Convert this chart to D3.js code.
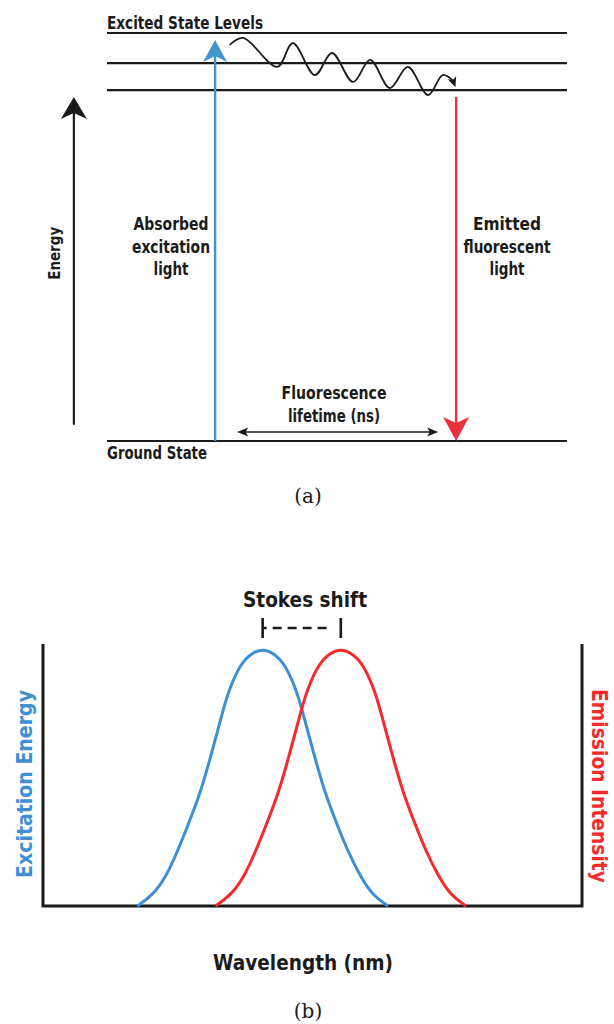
<!DOCTYPE html>
<html><head><meta charset="utf-8">
<script src="https://cdn.jsdelivr.net/npm/d3@7"></script>
<style>body{margin:0;background:#fff}svg{display:block}</style>
</head><body>
<script>
// ================= DATA =================
// (a) Jablonski diagram — energies in arbitrary units, positions on a 0..100 track
const excitedLevels = [10, 9.26, 8.6];
const groundLevel = 0;
const energyAxis = [0.4, 8.43];          // energy arrow from / to
const absorbedArrow = [0, 9.83];         // blue arrow: ground -> top
const emittedArrow = [8.43, 0];          // red arrow: below levels -> ground
const lifetimeSpan = [28.3, 72.0];       // horizontal double arrow positions
const lifetimeEnergy = 0.22;
const absorbedPos = 23.5;
const emittedPos = 75.9;
const energyAxisPos = -7.2;
// vibrational relaxation path [position, energy]
const relaxation = [
  [26.7, 9.71], [29.6, 9.88], [37.0, 9.17], [40.4, 9.75], [45.2, 8.97],
  [48.9, 9.51], [53.5, 8.80], [57.2, 9.34], [61.5, 8.65], [65.4, 9.17],
  [69.8, 8.48], [73.0, 8.97], [75.3, 8.82]
];
const absorbedLabel = ["Absorbed", "excitation", "light"];
const emittedLabel = ["Emitted", "fluorescent", "light"];
const lifetimeLabel = ["Fluorescence", "lifetime (ns)"];

// (b) spectra — wavelength (nm, arbitrary) vs normalised intensity
const excitationWl = [370,381,391,400,408,416,422,428,434,439,447,455,463,471,479,487,492,498,504,510,518,526,536,545,556];
const excitationVal = [0,0.04,0.11,0.215,0.32,0.43,0.535,0.65,0.77,0.855,0.945,0.985,1,0.985,0.945,0.855,0.77,0.65,0.535,0.43,0.32,0.215,0.11,0.04,0];
const emissionWl = [428,439,449,458,466,474,480,486,492,497,505,513,521,529,537,545,550,556,562,568,576,584,594,603,614];
const emissionVal = [0,0.04,0.11,0.215,0.32,0.43,0.535,0.65,0.77,0.855,0.945,0.985,1,0.985,0.945,0.855,0.77,0.65,0.535,0.43,0.32,0.215,0.11,0.04,0];
const stokesPeaks = [463, 521];

// ================= DRAW =================
const W = 614, H = 1024;
const svg = d3.select("body").append("svg").attr("width", W).attr("height", H);
const FONT = "'Liberation Sans Narrow','Arial Narrow','DejaVu Sans Condensed',sans-serif";
const INK = "#1b1b1b";
const BLUE_A = "#4393cf", RED_A = "#e8323c";
const BLUE = "#3f8fd2", RED = "#f52a2a";

function arrowHead(g, x, y, angle, len, wid, notch, color) {
  g.append("path")
    .attr("d", `M0,0 L${-len},${-wid/2} L${-len+notch},0 L${-len},${wid/2} Z`)
    .attr("transform", `translate(${x},${y}) rotate(${angle})`)
    .attr("fill", color);
}
function label(g, x, y, txt, size, opts = {}) {
  const t = g.append("text").attr("x", x).attr("y", y).text(txt)
    .attr("font-family", FONT).attr("font-weight", "bold")
    .attr("font-size", size).attr("fill", opts.fill || INK)
    .attr("text-anchor", opts.anchor || "start");
  if (opts.len) t.attr("textLength", opts.len).attr("lengthAdjust", "spacingAndGlyphs");
  return t;
}

// ---------- (a) ----------
const ga = svg.append("g");
const px = d3.scaleLinear().domain([0, 100]).range([107, 567]);
const ey = d3.scaleLinear().domain([0, 10]).range([441, 33]);

// levels
ga.selectAll("line.lvl").data(excitedLevels.concat([groundLevel])).join("line")
  .attr("x1", px(0)).attr("x2", px(100))
  .attr("y1", d => ey(d)).attr("y2", d => ey(d))
  .attr("stroke", INK).attr("stroke-width", 2.2);

label(ga, px(0), ey(10) - 4, "Excited State Levels", 17, {len: 156});
label(ga, px(0), ey(groundLevel) + 18, "Ground State", 17, {len: 100});

// energy axis arrow
ga.append("line").attr("x1", px(energyAxisPos)).attr("x2", px(energyAxisPos))
  .attr("y1", ey(energyAxis[0])).attr("y2", ey(energyAxis[1]) + 10)
  .attr("stroke", INK).attr("stroke-width", 2.2);
arrowHead(ga, px(energyAxisPos), ey(energyAxis[1]), -90, 22, 26, 6, INK);
label(ga, 0, 0, "Energy", 16, {anchor: "middle", len: 53})
  .attr("transform", `translate(${px(energyAxisPos) - 14},${ey(4.6)}) rotate(-90)`);

// absorbed (blue) arrow
ga.append("line").attr("x1", px(absorbedPos)).attr("x2", px(absorbedPos))
  .attr("y1", ey(absorbedArrow[0])).attr("y2", ey(absorbedArrow[1]) + 12)
  .attr("stroke", BLUE_A).attr("stroke-width", 2.4);
arrowHead(ga, px(absorbedPos), ey(absorbedArrow[1]), -90, 22, 24, 6, BLUE_A);

// emitted (red) arrow
ga.append("line").attr("x1", px(emittedPos)).attr("x2", px(emittedPos))
  .attr("y1", ey(emittedArrow[0])).attr("y2", ey(emittedArrow[1]) - 12)
  .attr("stroke", RED_A).attr("stroke-width", 2.4);
arrowHead(ga, px(emittedPos), ey(emittedArrow[1]), 90, 24, 26, 6, RED_A);

// relaxation wave
const waveLine = d3.line().x(d => px(d[0])).y(d => ey(d[1])).curve(d3.curveCatmullRom.alpha(0.5));
ga.append("path").datum(relaxation).attr("d", waveLine)
  .attr("fill", "none").attr("stroke", INK).attr("stroke-width", 1.8);
const last = relaxation[relaxation.length - 1];
arrowHead(ga, px(last[0]) + 2, ey(last[1]) + 6, 70, 10, 9, 2.5, INK);

// lifetime double arrow
ga.append("line").attr("x1", px(lifetimeSpan[0]) + 4).attr("x2", px(lifetimeSpan[1]) - 4)
  .attr("y1", ey(lifetimeEnergy)).attr("y2", ey(lifetimeEnergy))
  .attr("stroke", INK).attr("stroke-width", 1.6);
arrowHead(ga, px(lifetimeSpan[0]), ey(lifetimeEnergy), 180, 11, 9, 2.5, INK);
arrowHead(ga, px(lifetimeSpan[1]), ey(lifetimeEnergy), 0, 11, 9, 2.5, INK);

// labels
const absW = [75, 78, 35], emW = [68, 87, 35], lfW = [105, 92];
absorbedLabel.forEach((t, i) => label(ga, 171, 230 + i * 22.5, t, 18, {anchor: "middle", len: absW[i]}));
emittedLabel.forEach((t, i) => label(ga, 507, 230 + i * 22.5, t, 18, {anchor: "middle", len: emW[i]}));
lifetimeLabel.forEach((t, i) => label(ga, 334, 399 + i * 22.5, t, 17, {anchor: "middle", len: lfW[i]}));

svg.append("text").attr("x", 308).attr("y", 503).attr("text-anchor", "middle")
  .attr("font-family", "'DejaVu Serif','Liberation Serif',serif").attr("font-size", 20)
  .attr("fill", INK).text("(a)");

// ---------- (b) ----------
const gb = svg.append("g");
const x = d3.scaleLinear().domain([300, 700]).range([43, 582]);
const y = d3.scaleLinear().domain([0, 1]).range([906, 649]);
const yTop = 644;

// frame
gb.append("path")
  .attr("d", `M${x(300)},${yTop} L${x(300)},${y(0)} L${x(700)},${y(0)} L${x(700)},${yTop}`)
  .attr("fill", "none").attr("stroke", INK).attr("stroke-width", 3).attr("stroke-linejoin", "miter");

const line = d3.line().x(d => x(d[0])).y(d => y(d[1])).curve(d3.curveBasis);
const exData = d3.zip(excitationWl, excitationVal);
const emData = d3.zip(emissionWl, emissionVal);
gb.append("path").datum(exData).attr("d", line).attr("fill", "none").attr("stroke", BLUE).attr("stroke-width", 3);
gb.append("path").datum(emData).attr("d", line).attr("fill", "none").attr("stroke", RED).attr("stroke-width", 3);

// stokes shift bracket
const sy = 628;
gb.selectAll("line.tick").data(stokesPeaks).join("line")
  .attr("x1", d => x(d)).attr("x2", d => x(d)).attr("y1", sy - 10).attr("y2", sy + 10)
  .attr("stroke", INK).attr("stroke-width", 2.6);
gb.append("line").attr("x1", x(stokesPeaks[0])).attr("x2", x(stokesPeaks[1]))
  .attr("y1", sy).attr("y2", sy).attr("stroke", INK).attr("stroke-width", 2.6)
  .attr("stroke-dasharray", "4,6,9,6,9,6,9,6,9,30");
label(gb, 305, 607, "Stokes shift", 22, {anchor: "middle", len: 124});

label(gb, 0, 0, "Excitation Energy", 22, {anchor: "middle", fill: BLUE, len: 188})
  .attr("transform", `translate(32,784) rotate(-90)`);
label(gb, 0, 0, "Emission Intensity", 22, {anchor: "middle", fill: RED, len: 194})
  .attr("transform", `translate(592,786) rotate(90)`);

label(gb, 303, 970, "Wavelength (nm)", 21, {anchor: "middle", len: 180});

svg.append("text").attr("x", 308).attr("y", 1018).attr("text-anchor", "middle")
  .attr("font-family", "'DejaVu Serif','Liberation Serif',serif").attr("font-size", 20)
  .attr("fill", INK).text("(b)");
</script>
</body></html>
